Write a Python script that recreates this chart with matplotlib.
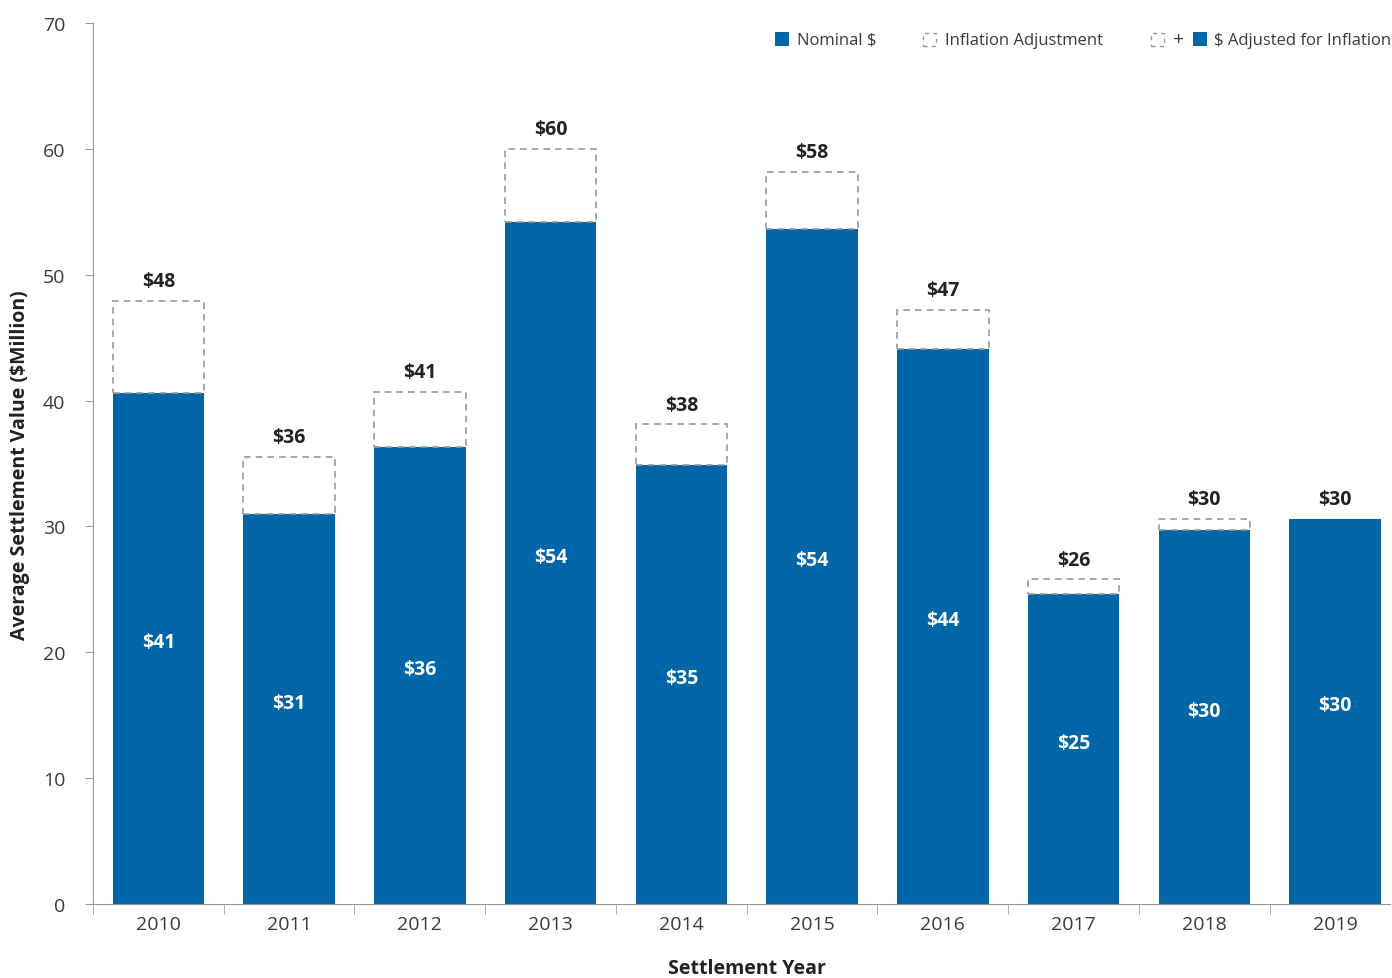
import matplotlib.pyplot as plt
from matplotlib.patches import Rectangle
import numpy as np

plt.rcParams['font.family'] = ['Open Sans', 'DejaVu Sans']

years = ['2010', '2011', '2012', '2013', '2014', '2015', '2016', '2017', '2018', '2019']
nominal = [40.6, 31.0, 36.3, 54.2, 34.9, 53.6, 44.1, 24.6, 29.7, 30.6]
adjusted = [47.9, 35.5, 40.7, 60.0, 38.1, 58.2, 47.2, 25.8, 30.6, 30.6]
nominal_labels = ['$41', '$31', '$36', '$54', '$35', '$54', '$44', '$25', '$30', '$30']
adjusted_labels = ['$48', '$36', '$41', '$60', '$38', '$58', '$47', '$26', '$30', '$30']

BLUE = '#0066a8'
GREY = '#9a9a9a'
TXT = '#3a3a3a'

W, H = 1392, 979
fig = plt.figure(figsize=(W / 100, H / 100), dpi=100)
ax = fig.add_axes([93 / W, 1 - 905 / H, (1390 - 93) / W, (905 - 24) / H])

x = np.arange(len(years))
width = 0.70
nom = np.array(nominal)
adj = np.array(adjusted)

ax.bar(x, nom, width, color=BLUE, zorder=2)
extra = adj - nom
for i in range(len(x)):
    if extra[i] > 0.05:
        ax.bar(x[i], extra[i], width, bottom=nom[i], facecolor='none',
               edgecolor=GREY, linestyle=(0, (4, 3)), linewidth=1.2, zorder=3)

for i in range(len(x)):
    ax.annotate(adjusted_labels[i], (x[i], adj[i]), xytext=(0, 7),
                textcoords='offset points', ha='center', va='bottom',
                fontsize=14, fontweight='bold', color='#222222')
    ax.text(x[i], nom[i] / 2 + 0.5, nominal_labels[i], ha='center', va='center',
            fontsize=14, fontweight='bold', color='white', zorder=4)

ax.set_xlim(-0.5, 9.42)
ax.set_ylim(0, 70)
ax.set_yticks(range(0, 71, 10))
ax.set_xticks(x)
ax.set_xticklabels(years)
ax.set_xticks(np.arange(-0.5, 9.0, 1.0), minor=True)
ax.tick_params(axis='x', which='major', length=0, pad=8, labelsize=14, labelcolor=TXT)
ax.tick_params(axis='x', which='minor', length=7, color=GREY)
ax.tick_params(axis='y', length=6, color=GREY, labelsize=14, labelcolor=TXT, pad=14)

for s in ['top', 'right']:
    ax.spines[s].set_visible(False)
for s in ['left', 'bottom']:
    ax.spines[s].set_color(GREY)

fig.text(747 / W, 1 - 969 / H, 'Settlement Year', ha='center', va='center',
         fontsize=14, fontweight='bold', color='#222222')
fig.text(20 / W, 1 - 465 / H, 'Average Settlement Value ($Million)', ha='center', va='center',
         rotation=90, fontsize=14, fontweight='bold', color='#222222')


# legend drawn by hand in figure pixels
def box(px, py, dashed=False):
    if dashed:
        r = Rectangle((px / W, 1 - (py + 14) / H), 13 / W, 13 / H, transform=fig.transFigure,
                      facecolor='none', edgecolor=GREY, linestyle=(0, (3, 3)), linewidth=1.0)
    else:
        r = Rectangle((px / W, 1 - (py + 14) / H), 14 / W, 14 / H, transform=fig.transFigure,
                      facecolor=BLUE, edgecolor='none')
    fig.add_artist(r)


def label(px, py, s, size=12):
    fig.text(px / W, 1 - py / H, s, ha='left', va='center', fontsize=size, color=TXT)


box(775, 33)
label(797, 41, 'Nominal $')
box(923, 33, dashed=True)
label(945, 41, 'Inflation Adjustment')
box(1151, 33, dashed=True)
label(1173, 40, '+', size=14)
box(1193, 33)
label(1214, 41, '$ Adjusted for Inflation')

fig.savefig('out.png', dpi=100)
